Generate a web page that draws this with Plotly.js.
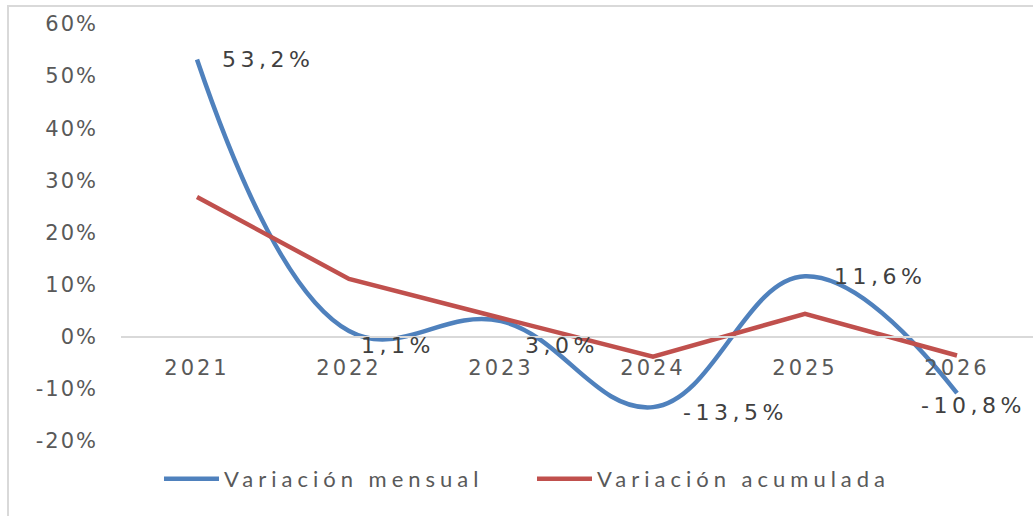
<!DOCTYPE html>
<html>
<head>
<meta charset="utf-8">
<script src="https://cdn.plot.ly/plotly-3.0.1.min.js"></script>
<style>
  html, body { margin: 0; padding: 0; background: #fff; }
  #frame { position: absolute; left: 7px; top: 5px; width: 1040px; height: 530px;
           border-left: 2px solid #d9d9d9; border-top: 2px solid #d9d9d9; pointer-events: none; z-index: 5; }
  #chart { position: absolute; left: 0; top: 0; width: 1033px; height: 516px; }
  .xtick text { letter-spacing: 3px; }
  .ytick text { letter-spacing: 2px; }
  .annotation-text { letter-spacing: 4.5px; }
  .legendtext { letter-spacing: 5px; }
</style>
</head>
<body>
<div id="chart"></div>
<div id="frame"></div>
<script>
// ---- data ----
const years = ["2021", "2022", "2023", "2024", "2025", "2026"];
const variacionMensual = [0.532, 0.011, 0.030, -0.135, 0.116, -0.108];
const variacionAcumulada = [0.268, 0.111, 0.036, -0.038, 0.044, -0.036];
const mensualLabels = ["53,2%", "1,1%", "3,0%", "-13,5%", "11,6%", "-10,8%"];
const seriesNames = ["Variación mensual", "Variación acumulada"];
const yTickVals = [-0.2, -0.1, 0, 0.1, 0.2, 0.3, 0.4, 0.5, 0.6];
const yTickText = ["-20%", "-10%", "0%", "10%", "20%", "30%", "40%", "50%", "60%"];

// ---- style (label offsets in px) ----
const labelShift = [[23, 0], [10, -14], [22, -24], [28, -5], [27, 0], [-38, -12]];

const tickFont = { family: "DejaVu Sans", size: 21, color: "#595959" };

const traces = [
  { x: years, y: variacionMensual, name: seriesNames[0], type: "scatter", mode: "lines",
    line: { color: "#4F81BD", width: 4.5, shape: "spline", smoothing: 1.15 }, hoverinfo: "skip" },
  { x: years, y: variacionAcumulada, name: seriesNames[1], type: "scatter", mode: "lines",
    line: { color: "#C0504D", width: 4.5 }, hoverinfo: "skip" }
];

const annotations = years.map((yr, i) => ({
  x: i, y: variacionMensual[i], xref: "x", yref: "y",
  text: mensualLabels[i], showarrow: false,
  xanchor: "left", yanchor: "middle",
  xshift: labelShift[i][0], yshift: labelShift[i][1],
  font: { family: "DejaVu Sans", size: 22, color: "#404040" }
}));

const layout = {
  width: 1033, height: 516,
  margin: { l: 121, r: 0, t: 24, b: 75, autoexpand: false },
  paper_bgcolor: "#ffffff", plot_bgcolor: "#ffffff",
  showlegend: true,
  legend: {
    orientation: "h", xref: "container", x: 0.515, xanchor: "center",
    y: -0.091, yanchor: "middle",
    font: { family: "Lato", size: 22, color: "#595959" },
    itemwidth: 55, tracegroupgap: 0,
    entrywidth: 303, entrywidthmode: "pixels"
  },
  xaxis: {
    type: "category", range: [-0.5, 5.5], domain: [0, 1],
    anchor: "free", position: 0.25,
    showline: true, linecolor: "#d9d9d9", linewidth: 2,
    showgrid: false, zeroline: false, ticks: "", tickangle: 0,
    tickfont: tickFont, ticklabelstandoff: 12
  },
  yaxis: {
    range: [-0.2, 0.6], domain: [0, 1], tickvals: yTickVals, ticktext: yTickText,
    showgrid: false, zeroline: false, showline: false, ticks: "",
    tickfont: tickFont, ticklabelstandoff: 22
  },
  annotations: annotations
};

Plotly.newPlot("chart", traces, layout, { staticPlot: true, displayModeBar: false });
</script>
</body>
</html>
